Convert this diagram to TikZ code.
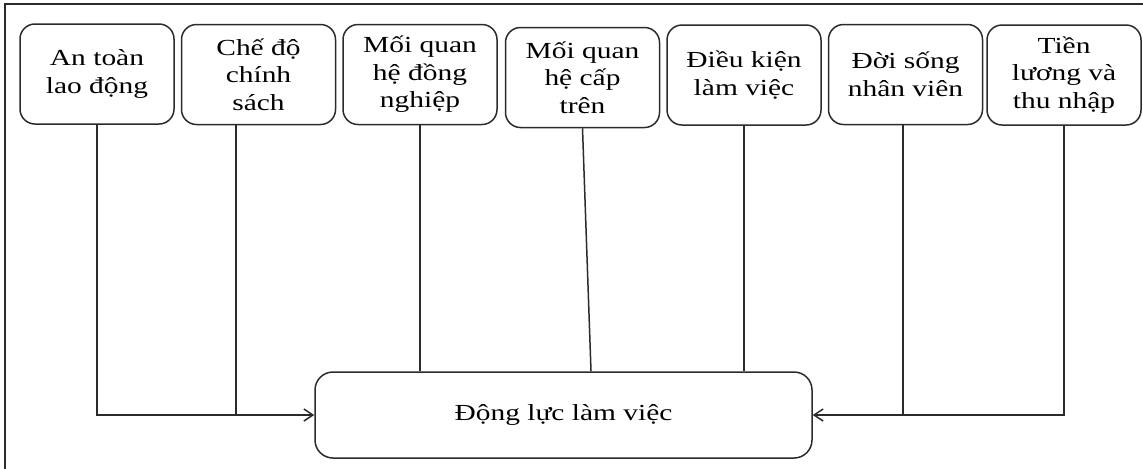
\documentclass[tikz,border=0pt]{standalone}
\usepackage{fontspec}
\setmainfont{Liberation Serif}[FakeStretch=1.28]
\usetikzlibrary{arrows.meta}
\definecolor{linegray}{HTML}{2B2B2B}
\tikzset{
  factor/.style={draw=linegray, line width=0.75pt, rounded corners=7.5pt,
    minimum width=77pt, minimum height=50pt, align=center, inner sep=1pt,
    font=\fontsize{11.5pt}{13.8pt}\selectfont},
  mainbox/.style={draw=linegray, line width=0.75pt, rounded corners=9pt,
    minimum width=248.5pt, minimum height=43pt, align=center,
    font=\fontsize{11.5pt}{13.8pt}\selectfont},
  conn/.style={draw=linegray, line width=0.75pt},
  arr/.style={conn, -{Straight Barb[length=4.5pt,width=6pt]}},
  frame/.style={draw=linegray, line width=0.9pt}
}
\begin{document}
\begin{tikzpicture}[x=0.5pt,y=-0.5pt]
\useasboundingbox (0,0) rectangle (1143,468);
\draw[frame] (5,470) -- (5,4) -- (1145,4);
\node[factor] (b1) at (97,74) {An toàn\\lao động};
\node[factor] (b2) at (258.5,74.5) {Chế độ\\chính\\sách};
\node[factor] (b3) at (420,74.5) {Mối quan\\hệ đồng\\nghiệp};
\node[factor] (b4) at (582.5,77.5) {Mối quan\\hệ cấp\\trên};
\node[factor] (b5) at (744,75) {Điều kiện\\làm việc};
\node[factor] (b6) at (905.5,74.5) {Đời sống\\nhân viên};
\node[factor] (b7) at (1064,75) {Tiền\\lương và\\thu nhập};
\node[mainbox] (m) at (563.5,415) {Động lực làm việc};
\draw[arr] (b1.south) |- (m.west);
\draw[conn] ([xshift=-11.25pt]b2.south) -- ([xshift=-11.25pt]b2.south |- m.west);
\draw[conn] (b3.south) -- (b3.south |- m.north);
\draw[conn] (b4.south) -- ([xshift=13.75pt]m.north);
\draw[conn] (b5.south) -- (b5.south |- m.north);
\draw[conn] ([xshift=-1.25pt]b6.south) -- ([xshift=-1.25pt]b6.south |- m.east);
\draw[arr] (b7.south) |- (m.east);
\end{tikzpicture}
\end{document}
